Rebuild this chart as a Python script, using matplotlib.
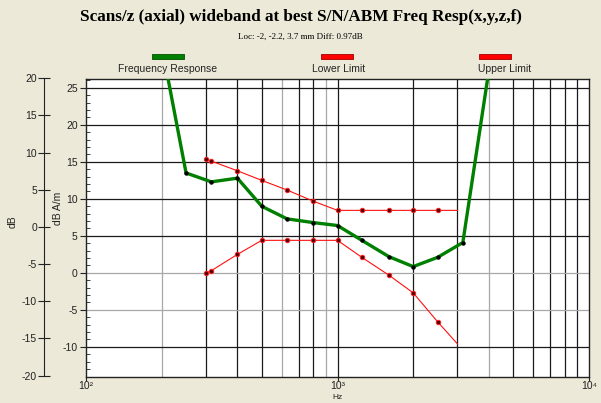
import numpy as np
import matplotlib
matplotlib.use("Agg")
from matplotlib import pyplot as plt
from matplotlib.patches import Rectangle
from matplotlib.ticker import FixedLocator, NullFormatter

plt.rcParams["font.family"] = ["Liberation Sans", "DejaVu Sans"]
plt.rcParams["axes.unicode_minus"] = False

# data
resp_hz = [200, 250, 315, 400, 500, 630, 800, 1000, 1250, 1600, 2000, 2500, 3150, 4000]
resp_db = [30.7, 13.5, 12.3, 12.8, 9.0, 7.3, 6.8, 6.4, 4.4, 2.2, 0.85, 2.1, 4.1, 27.4]

limit_hz = [300, 315, 400, 500, 630, 800, 1000, 1250, 1600, 2000, 2500, 3000]
upper_db = [15.4, 15.1, 13.8, 12.5, 11.2, 9.7, 8.45, 8.45, 8.45, 8.45, 8.45, 8.45]
lower_db = [0.0, 0.3, 2.5, 4.4, 4.4, 4.4, 4.4, 2.1, -0.3, -2.7, -6.6, -9.6]

inner_ticks = [-10, -5, 0, 5, 10, 15, 20, 25]
outer_ticks = [-20, -15, -10, -5, 0, 5, 10, 15, 20]
x_ticks = [100, 1000, 10000]
x_labels = ["10²", "10³", "10⁴"]
grid_dark_hz = [300, 400, 500, 700, 800, 2000, 3000, 5000, 6000, 7000, 8000, 9000]
grid_light_hz = [200, 600, 900, 4000]

BG = "#ECE9D8"
W, H = 601, 403

fig = plt.figure(figsize=(W / 100, H / 100), dpi=100, facecolor=BG)

# main axes
ax = fig.add_axes([86 / W, 1 - 376.5 / H, (589 - 86) / W, (376.5 - 79) / H])
ax.set_facecolor("white")
ax.set_xscale("log")
ax.set_xlim(100, 10000)
ax.set_ylim(-14.0, 26.2)

for f in grid_dark_hz:
    ax.axvline(f, color="#1a1a1a", lw=0.9, zorder=1)
for f in grid_light_hz:
    ax.axvline(f, color="#a8a8a8", lw=0.9, zorder=1)
for v in inner_ticks:
    c = "#a8a8a8" if v in (0, -5) else "#1a1a1a"
    ax.axhline(v, color=c, lw=0.9, zorder=1)
ax.axvline(1000, color="#1a1a1a", lw=0.9, zorder=1)

ax.plot(limit_hz, upper_db, color="#ff1010", lw=0.8, marker="o", ms=3.2,
        mfc="#500000", mec="#ff2020", mew=0.7, markevery=list(range(len(limit_hz) - 1)), zorder=3)
ax.plot(limit_hz, lower_db, color="#ff1010", lw=0.8, marker="o", ms=3.2,
        mfc="#500000", mec="#ff2020", mew=0.7, markevery=list(range(len(limit_hz) - 1)), zorder=3)
ax.plot(resp_hz, resp_db, color="#008000", lw=2.4, solid_joinstyle="round", zorder=4)
ax.plot(resp_hz[1:-1], resp_db[1:-1], ls="none", marker="o", ms=2.2, color="black", zorder=5)

ax.xaxis.set_major_locator(FixedLocator(x_ticks))
ax.set_xticklabels(x_labels)
ax.xaxis.set_minor_formatter(NullFormatter())
ax.tick_params(axis="x", which="major", length=3, direction="out", labelsize=7.5, colors="#222222", pad=0.5)
ax.tick_params(axis="x", which="minor", length=0)
fig.text(338 / W, 1 - 397.5 / H, "Hz", fontsize=6, color="#222222", ha="center", va="center")

ax.yaxis.set_major_locator(FixedLocator(inner_ticks))
ax.yaxis.set_minor_locator(FixedLocator(np.arange(-14, 27, 1)))
ax.tick_params(axis="y", which="major", length=4, direction="out", labelsize=7.5, colors="#222222", pad=2)
ax.tick_params(axis="y", which="minor", length=3, direction="in", color="#222222")
for s in ax.spines.values():
    s.set_color("#222222")
    s.set_linewidth(1.0)

fig.text(58 / W, 1 - 208 / H, "dB A/m", rotation=90, fontsize=7.5, color="#222222",
         ha="center", va="center")

# outer dB axis
ax2 = fig.add_axes([44 / W, 1 - 375.5 / H, 0.001, (375.5 - 78.3) / H])
ax2.set_ylim(-20, 20)
ax2.patch.set_visible(False)
for k in ["top", "right", "bottom"]:
    ax2.spines[k].set_visible(False)
ax2.spines["left"].set_color("#222222")
ax2.set_xticks([])
ax2.set_yticks(outer_ticks)
ax2.tick_params(axis="y", length=8, direction="inout", labelsize=7.5, colors="#222222", pad=1)
fig.text(13 / W, 1 - 222 / H, "dB", rotation=90, fontsize=7.5, color="#222222",
         ha="center", va="center")

# titles
fig.text(0.5, 1 - 17 / H, "Scans/z (axial) wideband at best S/N/ABM Freq Resp(x,y,z,f)",
         family="Liberation Serif", fontweight="bold", fontsize=12.3, ha="center", va="center")
fig.text(0.5, 1 - 37 / H, "Loc: -2, -2.2, 3.7 mm Diff: 0.97dB",
         family="Liberation Serif", fontsize=6.5, ha="center", va="center")

# legend
legend = [("Frequency Response", "#008000", "#005000", 152, 168),
          ("Lower Limit", "#ff0000", "#a00000", 321, 339),
          ("Upper Limit", "#ff0000", "#a00000", 479, 505)]
for label, fc, ec, sx, tx in legend:
    fig.add_artist(Rectangle((sx / W, 1 - 58.5 / H), 32 / W, 5 / H, transform=fig.transFigure,
                             facecolor=fc, edgecolor=ec, lw=0.6))
    fig.text(tx / W, 1 - 69 / H, label, fontsize=7.5, color="#222222", ha="center", va="center")

fig.savefig("out.png", dpi=100, facecolor=BG)
